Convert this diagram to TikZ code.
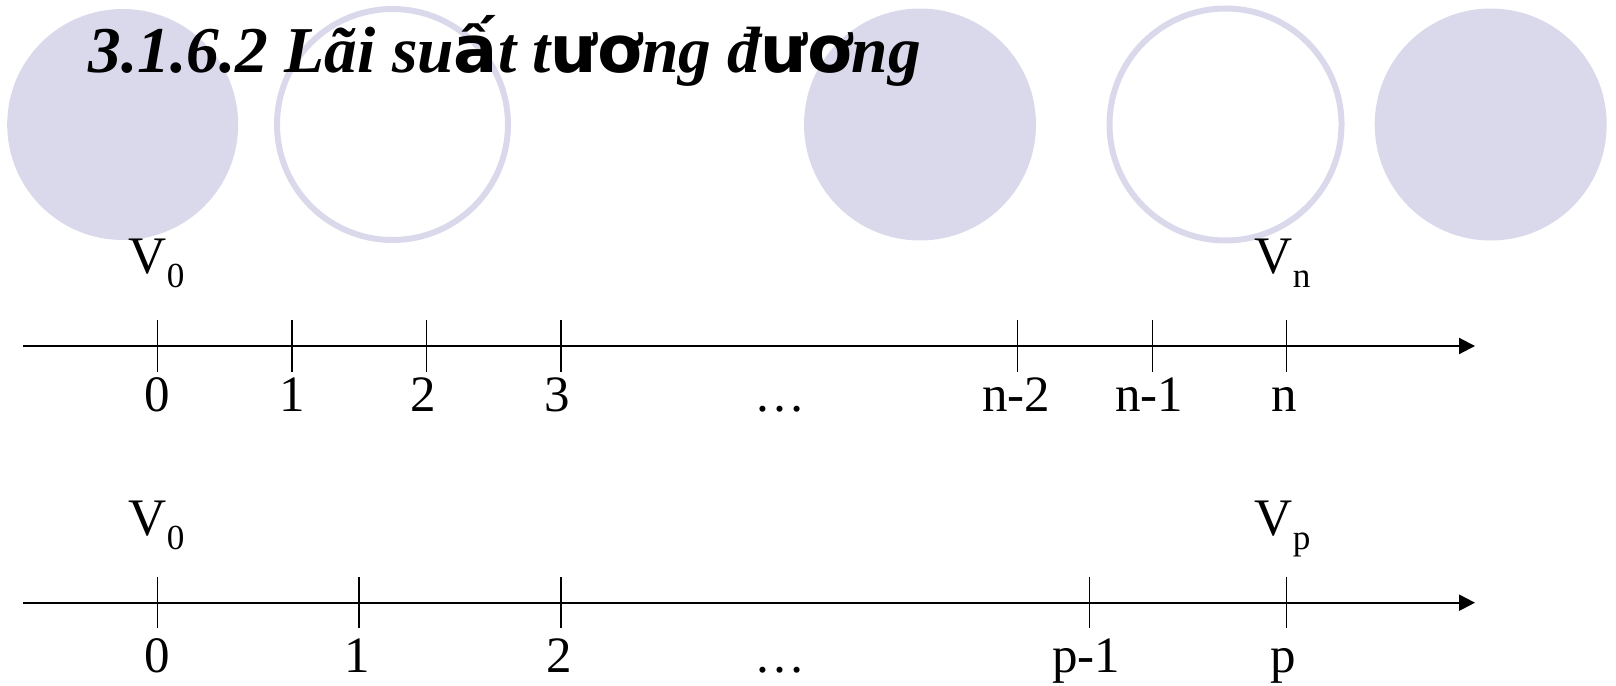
\documentclass[tikz,border=0pt]{standalone}
\usepackage{fontspec}
\setmainfont{Liberation Serif}
\newfontfamily\vietsans{DejaVu Sans}[UprightFont={* Bold},BoldFont={* Bold}]
\usetikzlibrary{arrows.meta}
\definecolor{lav}{RGB}{218,217,236}
\newcommand{\vsub}[1]{{\fontsize{10}{12}\selectfont\raisebox{-4pt}{#1}}}
\begin{document}
\begin{tikzpicture}[x=0.01cm,y=-0.01cm,
  disc/.style={fill=lav,draw=none},
  ring/.style={draw=lav,line width=0.06cm,fill=white},
  axis/.style={line width=0.02cm,-{Triangle[length=0.16cm,width=0.16cm]}},
  tick/.style={line width=0.016cm},
  lbl/.style={inner sep=0,anchor=base,font=\fontsize{14.5}{16}\selectfont},
  vlbl/.style={inner sep=0,anchor=base west,font=\fontsize{15}{17}\selectfont},
  ttl/.style={inner sep=0,anchor=base west,font=\fontsize{18.6}{21}\selectfont\bfseries\itshape}]
\useasboundingbox (0,0) rectangle (1616,685);
% decorative circles
\fill[disc] (122.7,124.5) circle (115.5);
\draw[ring] (392.5,124.5) circle (115.5);
\fill[disc] (920,124.5) circle (116);
\draw[ring] (1225.5,124.5) circle (116);
\fill[disc] (1490.7,124.5) circle (116);
% title
\node[ttl] (title) at (88,72.7) {3.1.6.2 Lãi su{\vietsans\upshape ấ}t t{\vietsans\upshape ươ}ng đ{\vietsans\upshape ươ}ng};
% timeline 1
\coordinate (a1s) at (23,346);
\coordinate (a1e) at (1475,346);
\draw[axis] (a1s) -- (a1e);
\foreach \n/\x in {t0/157.5,t1/292,t2/426.5,t3/561,tn2/1017.5,tn1/1152.3,tn/1286.6}{
  \coordinate (\n) at (\x,346);
  \draw[tick] ([yshift=0.255cm]\n) -- ([yshift=-0.255cm]\n);
}
\node[lbl] (l0) at (157,411) {0};
\node[lbl] (l1) at (292.7,411) {1};
\node[lbl] (l2) at (423.6,411) {2};
\node[lbl] (l3) at (557.6,411) {3};
\node[lbl] (ld) at (780,411) {…};
\node[lbl] (ln2) at (1016,411) {n-2};
\node[lbl] (ln1) at (1149,411) {n-1};
\node[lbl] (ln) at (1284,411) {n};
\node[vlbl] (v0a) at (128,273) {V\vsub{0}};
\node[vlbl] (vn) at (1254,273) {V\vsub{n}};
% timeline 2
\coordinate (b1s) at (23,602.7);
\coordinate (b1e) at (1475,602.7);
\draw[axis] (b1s) -- (b1e);
\foreach \n/\x in {s0/157.5,s1/358.8,s2/561,sp1/1089.6,sp/1286.6}{
  \coordinate (\n) at (\x,602.7);
  \draw[tick] ([yshift=0.255cm]\n) -- ([yshift=-0.255cm]\n);
}
\node[lbl] (m0) at (157,672.7) {0};
\node[lbl] (m1) at (357.6,672.7) {1};
\node[lbl] (m2) at (559.6,672.7) {2};
\node[lbl] (md) at (780,672.7) {…};
\node[lbl] (mp1) at (1086,672.7) {p-1};
\node[lbl] (mp) at (1283,672.7) {p};
\node[vlbl] (v0b) at (128,535) {V\vsub{0}};
\node[vlbl] (vp) at (1254,535) {V\vsub{p}};
\end{tikzpicture}
\end{document}
